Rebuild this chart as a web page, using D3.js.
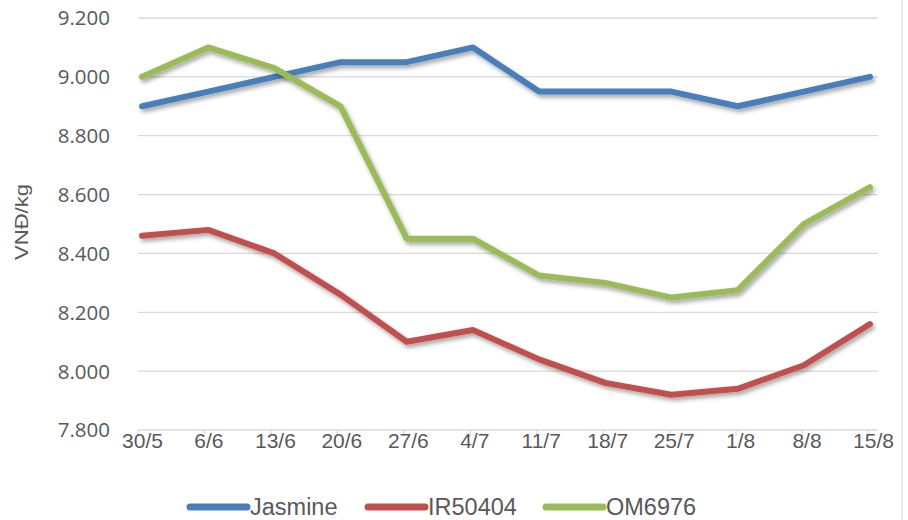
<!DOCTYPE html>
<html><head><meta charset="utf-8">
<script src="https://cdn.jsdelivr.net/npm/d3@7"></script>
<style>body{margin:0;background:#fff}text{font-family:"Liberation Sans",Arial,sans-serif;fill:#595959}</style>
</head><body><svg id="c" width="908" height="520"></svg>
<script>
const categories = ["30/5","6/6","13/6","20/6","27/6","4/7","11/7","18/7","25/7","1/8","8/8","15/8"];
const jasmine = [8900,8950,9000,9050,9050,9100,8950,8950,8950,8900,8950,9000];
const ir50404 = [8460,8480,8400,8260,8100,8140,8040,7960,7920,7940,8020,8160];
const om6976 = [9000,9100,9030,8900,8450,8450,8325,8300,8250,8275,8500,8625];
const yTicks = [7800,8000,8200,8400,8600,8800,9000,9200];
const seriesNames = ["Jasmine","IR50404","OM6976"];
const colors = ["#4a7ebb","#c0504d","#9bbb59"];
const series = [jasmine, ir50404, om6976];

const svg = d3.select("#c");
const defs = svg.append("defs");
const f = defs.append("filter").attr("id","sh").attr("x","-10%").attr("y","-10%").attr("width","120%").attr("height","130%");
f.append("feDropShadow").attr("dx",2).attr("dy",3).attr("stdDeviation",2).attr("flood-color","#000").attr("flood-opacity",0.35);

const x = d3.scalePoint().domain(categories).range([142,870]);
const xt = d3.scalePoint().domain(categories).range([138,869]);
const y = d3.scaleLinear().domain([7800,9200]).range([430,18]);
const fmt = v => d3.format(",.0f")(v).replace(/,/g,".");

// gridlines
svg.append("g").selectAll("line").data(yTicks.slice(1)).join("line")
  .attr("x1",138).attr("x2",878).attr("y1",d=>y(d)).attr("y2",d=>y(d))
  .attr("stroke","#d9d9d9").attr("stroke-width",1.3);

// y labels
svg.append("g").selectAll("text").data(yTicks).join("text")
  .attr("x",110).attr("y",d=>y(d)).attr("dy","0.36em").attr("text-anchor","end")
  .style("font-family","'Open Sans',sans-serif").style("font-size","20.5px").text(d=>fmt(d));

// x axis
svg.append("line").attr("x1",138).attr("x2",878).attr("y1",430).attr("y2",430).attr("stroke","#d9d9d9").attr("stroke-width",1.3);
svg.append("g").selectAll("line").data(categories).join("line")
  .attr("x1",d=>xt(d)).attr("x2",d=>xt(d)).attr("y1",430).attr("y2",436)
  .attr("stroke","#d9d9d9").attr("stroke-width",1.3);
svg.append("g").selectAll("text").data(categories).join("text")
  .attr("x",d=>xt(d)+4.5).attr("y",448).attr("text-anchor","middle")
  .style("font-size","21px").text(d=>d);

// y axis title
svg.append("text").attr("transform","translate(28,222) rotate(-90)").attr("text-anchor","middle")
  .style("font-size","19px").attr("textLength",76).attr("lengthAdjust","spacingAndGlyphs").text("VNĐ/kg");

// right border
svg.append("line").attr("x1",902).attr("x2",902).attr("y1",0).attr("y2",520).attr("stroke","#d9d9d9").attr("stroke-width",1);

// lines
const line = d3.line().x((d,i)=>x(categories[i])).y(d=>y(d));
svg.append("g").selectAll("path").data(series).join("path")
  .attr("d",d=>line(d)).attr("fill","none").attr("stroke",(d,i)=>colors[i])
  .attr("stroke-width",6).attr("stroke-linecap","round").attr("stroke-linejoin","round")
  .attr("filter","url(#sh)");

// legend
const lg = [190,368,546];
const leg = svg.append("g").selectAll("g").data(seriesNames).join("g")
  .attr("transform",(d,i)=>`translate(${lg[i]},507)`);
leg.append("line").attr("x1",0).attr("x2",57).attr("y1",0).attr("y2",0)
  .attr("stroke",(d,i)=>colors[i]).attr("stroke-width",7).attr("stroke-linecap","round");
leg.append("text").attr("x",60).attr("dy","0.36em").style("font-size","23.5px").text(d=>d);
</script></body></html>
